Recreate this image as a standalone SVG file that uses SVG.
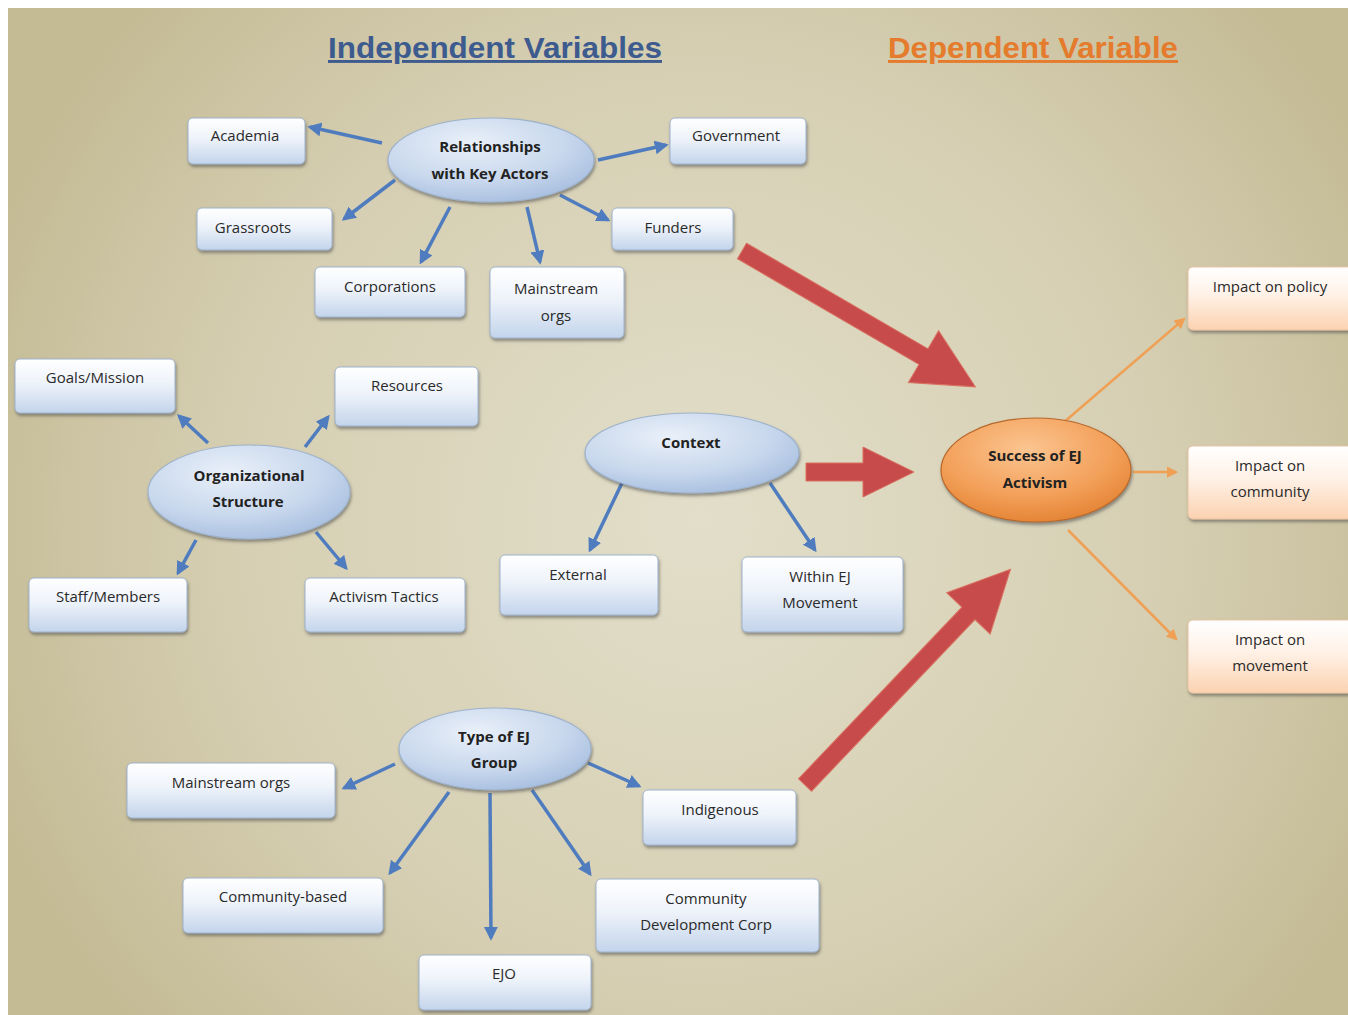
<svg xmlns="http://www.w3.org/2000/svg" width="1348" height="1015" viewBox="0 0 1348 1015">
<defs>
<radialGradient id="bg" cx="700" cy="520" r="760" gradientUnits="userSpaceOnUse">
<stop offset="0" stop-color="#e2dec9"/>
<stop offset="0.6" stop-color="#d6cfb3"/>
<stop offset="1" stop-color="#c4bb95"/>
</radialGradient>
<linearGradient id="boxg" x1="0" y1="0" x2="0" y2="1">
<stop offset="0" stop-color="#ffffff"/>
<stop offset="0.45" stop-color="#eef3fa"/>
<stop offset="1" stop-color="#c3d4eb"/>
</linearGradient>
<linearGradient id="obox" x1="0" y1="0" x2="0" y2="1">
<stop offset="0" stop-color="#ffffff"/>
<stop offset="0.45" stop-color="#fff1e6"/>
<stop offset="1" stop-color="#fbd2b0"/>
</linearGradient>
<radialGradient id="ellg" cx="0.4" cy="0.3" r="0.75">
<stop offset="0" stop-color="#e9f0f9"/>
<stop offset="0.6" stop-color="#c9d8ed"/>
<stop offset="1" stop-color="#a6bedf"/>
</radialGradient>
<radialGradient id="oellg" cx="0.45" cy="0.3" r="0.75">
<stop offset="0" stop-color="#fbc590"/>
<stop offset="0.6" stop-color="#f3a05a"/>
<stop offset="1" stop-color="#e2802f"/>
</radialGradient>
<filter id="sh" x="-20%" y="-20%" width="140%" height="150%">
<feDropShadow dx="1" dy="2.5" stdDeviation="1.5" flood-color="#4a4a4a" flood-opacity="0.55"/>
</filter>
<marker id="ba" viewBox="0 0 10 10" refX="8" refY="5" markerWidth="4" markerHeight="4" orient="auto" markerUnits="strokeWidth">
<path d="M0,0 L10,5 L0,10 z" fill="#4f7cbe"/>
</marker>
<marker id="oa" viewBox="0 0 10 10" refX="8" refY="5" markerWidth="4.5" markerHeight="4.5" orient="auto" markerUnits="strokeWidth">
<path d="M0,0 L10,5 L0,10 z" fill="#f0a055"/>
</marker>
<style>
.box{fill:url(#boxg);stroke:#9fb2cc;stroke-width:1;filter:url(#sh)}
.obox{fill:url(#obox);stroke:#e8c4a4;stroke-width:1;filter:url(#sh)}
.ell{fill:url(#ellg);stroke:#9fb3cd;stroke-width:1.2;filter:url(#sh)}
.oell{fill:url(#oellg);stroke:#b8692a;stroke-width:1.2;filter:url(#sh)}
.t{font-family:"Open Sans","Noto Sans",sans-serif;font-size:15px;fill:#2a2a2a;text-anchor:middle}
.tb{font-family:"Open Sans","Noto Sans",sans-serif;font-size:15px;font-weight:bold;fill:#222;text-anchor:middle}
.bl{stroke:#4f7cbe;stroke-width:3.5;fill:none;marker-end:url(#ba)}
.ol{stroke:#f0a055;stroke-width:2.5;fill:none;marker-end:url(#oa)}
.red{fill:#c84b4b;stroke:#d97060;stroke-width:1}
.title{font-family:"Liberation Sans",Arial,sans-serif;font-size:29px;font-weight:bold;text-decoration:underline}
</style>
</defs>
<rect x="0" y="0" width="1348" height="1015" fill="#ffffff"/>
<rect x="8" y="8" width="1340" height="1007" fill="url(#bg)"/>

<text class="title" x="328" y="58" textLength="334" lengthAdjust="spacingAndGlyphs" fill="#3d5b8e">Independent Variables</text>
<text class="title" x="888" y="58" textLength="290" lengthAdjust="spacingAndGlyphs" fill="#e57b2c">Dependent Variable</text>

<g id="connectors">
<line class="bl" x1="382" y1="143" x2="310" y2="127"/>
<line class="bl" x1="598" y1="160" x2="666" y2="145"/>
<line class="bl" x1="395" y1="180" x2="344" y2="219"/>
<line class="bl" x1="560" y1="195" x2="608" y2="220"/>
<line class="bl" x1="450" y1="207" x2="421" y2="262"/>
<line class="bl" x1="527" y1="207" x2="540" y2="262"/>
<line class="bl" x1="208" y1="443" x2="179" y2="416"/>
<line class="bl" x1="305" y1="447" x2="328" y2="417"/>
<line class="bl" x1="196" y1="540" x2="178" y2="573"/>
<line class="bl" x1="316" y1="532" x2="346" y2="568"/>
<line class="bl" x1="622" y1="483" x2="590" y2="550"/>
<line class="bl" x1="770" y1="483" x2="815" y2="550"/>
<line class="bl" x1="395" y1="764" x2="344" y2="788"/>
<line class="bl" x1="449" y1="792" x2="390" y2="873"/>
<line class="bl" x1="490" y1="793" x2="491" y2="938"/>
<line class="bl" x1="532" y1="790" x2="590" y2="874"/>
<line class="bl" x1="588" y1="763" x2="639" y2="786"/>
<line class="ol" x1="1063" y1="423" x2="1184" y2="319"/>
<line class="ol" x1="1133" y1="472" x2="1176" y2="472"/>
<line class="ol" x1="1068" y1="530" x2="1176" y2="639"/>
<path class="red" transform="translate(742,251) rotate(30.2)" d="M0,-9 L210,-9 L210,-30 L270,0 L210,30 L210,9 L0,9 Z"/>
<path class="red" transform="translate(806,472)" d="M0,-9 L57,-9 L57,-25 L108,0 L57,25 L57,9 L0,9 Z"/>
<path class="red" transform="translate(805,785) rotate(-46.4)" d="M0,-9 L237,-9 L237,-30 L298,0 L237,30 L237,9 L0,9 Z"/>
</g>

<g id="relationships"><ellipse class="ell" cx="491" cy="160" rx="103" ry="42"/><text class="tb" x="490" y="152">Relationships</text><text class="tb" x="490" y="179">with Key Actors</text></g>
<g id="academia"><rect class="box" x="188" y="118" width="117" height="46" rx="5"/><text class="t" x="245" y="141">Academia</text></g>
<g id="government"><rect class="box" x="670" y="118" width="136" height="46" rx="5"/><text class="t" x="736" y="141">Government</text></g>
<g id="grassroots"><rect class="box" x="197" y="208" width="135" height="42" rx="5"/><text class="t" x="253" y="233">Grassroots</text></g>
<g id="funders"><rect class="box" x="612" y="208" width="121" height="42" rx="5"/><text class="t" x="673" y="233">Funders</text></g>
<g id="corporations"><rect class="box" x="315" y="267" width="150" height="50" rx="5"/><text class="t" x="390" y="292">Corporations</text></g>
<g id="mainstream-top"><rect class="box" x="490" y="267" width="134" height="71" rx="5"/><text class="t" x="556" y="294">Mainstream</text><text class="t" x="556" y="321">orgs</text></g>

<g id="org-structure"><ellipse class="ell" cx="249" cy="492" rx="101" ry="47"/><text class="tb" x="249" y="481">Organizational</text><text class="tb" x="248" y="507">Structure</text></g>
<g id="goals"><rect class="box" x="15" y="359" width="160" height="54" rx="5"/><text class="t" x="95" y="383">Goals/Mission</text></g>
<g id="resources"><rect class="box" x="335" y="367" width="143" height="59" rx="5"/><text class="t" x="407" y="391">Resources</text></g>
<g id="staff"><rect class="box" x="29" y="578" width="158" height="54" rx="5"/><text class="t" x="108" y="602">Staff/Members</text></g>
<g id="tactics"><rect class="box" x="305" y="578" width="160" height="54" rx="5"/><text class="t" x="384" y="602">Activism Tactics</text></g>

<g id="context"><ellipse class="ell" cx="692" cy="453" rx="107" ry="40"/><text class="tb" x="691" y="448">Context</text></g>
<g id="external"><rect class="box" x="500" y="555" width="158" height="60" rx="5"/><text class="t" x="578" y="580">External</text></g>
<g id="within"><rect class="box" x="742" y="557" width="161" height="75" rx="5"/><text class="t" x="820" y="582">Within EJ</text><text class="t" x="820" y="608">Movement</text></g>

<g id="success"><ellipse class="oell" cx="1036" cy="470" rx="95" ry="52"/><text class="tb" x="1035" y="461">Success of EJ</text><text class="tb" x="1035" y="488">Activism</text></g>
<g id="impact-policy"><rect class="obox" x="1188" y="267" width="166" height="63" rx="5"/><text class="t" x="1270" y="292">Impact on policy</text></g>
<g id="impact-community"><rect class="obox" x="1188" y="446" width="166" height="73" rx="5"/><text class="t" x="1270" y="471">Impact on</text><text class="t" x="1270" y="497">community</text></g>
<g id="impact-movement"><rect class="obox" x="1188" y="620" width="166" height="73" rx="5"/><text class="t" x="1270" y="645">Impact on</text><text class="t" x="1270" y="671">movement</text></g>

<g id="type-group"><ellipse class="ell" cx="495" cy="749" rx="96" ry="41"/><text class="tb" x="494" y="742">Type of EJ</text><text class="tb" x="494" y="768">Group</text></g>
<g id="mainstream-bottom"><rect class="box" x="127" y="763" width="208" height="55" rx="5"/><text class="t" x="231" y="788">Mainstream orgs</text></g>
<g id="indigenous"><rect class="box" x="643" y="790" width="153" height="55" rx="5"/><text class="t" x="720" y="815">Indigenous</text></g>
<g id="community-based"><rect class="box" x="183" y="878" width="200" height="55" rx="5"/><text class="t" x="283" y="902">Community-based</text></g>
<g id="cdc"><rect class="box" x="596" y="879" width="223" height="73" rx="5"/><text class="t" x="706" y="904">Community</text><text class="t" x="706" y="930">Development Corp</text></g>
<g id="ejo"><rect class="box" x="419" y="955" width="172" height="55" rx="5"/><text class="t" x="504" y="979">EJO</text></g>
</svg>
